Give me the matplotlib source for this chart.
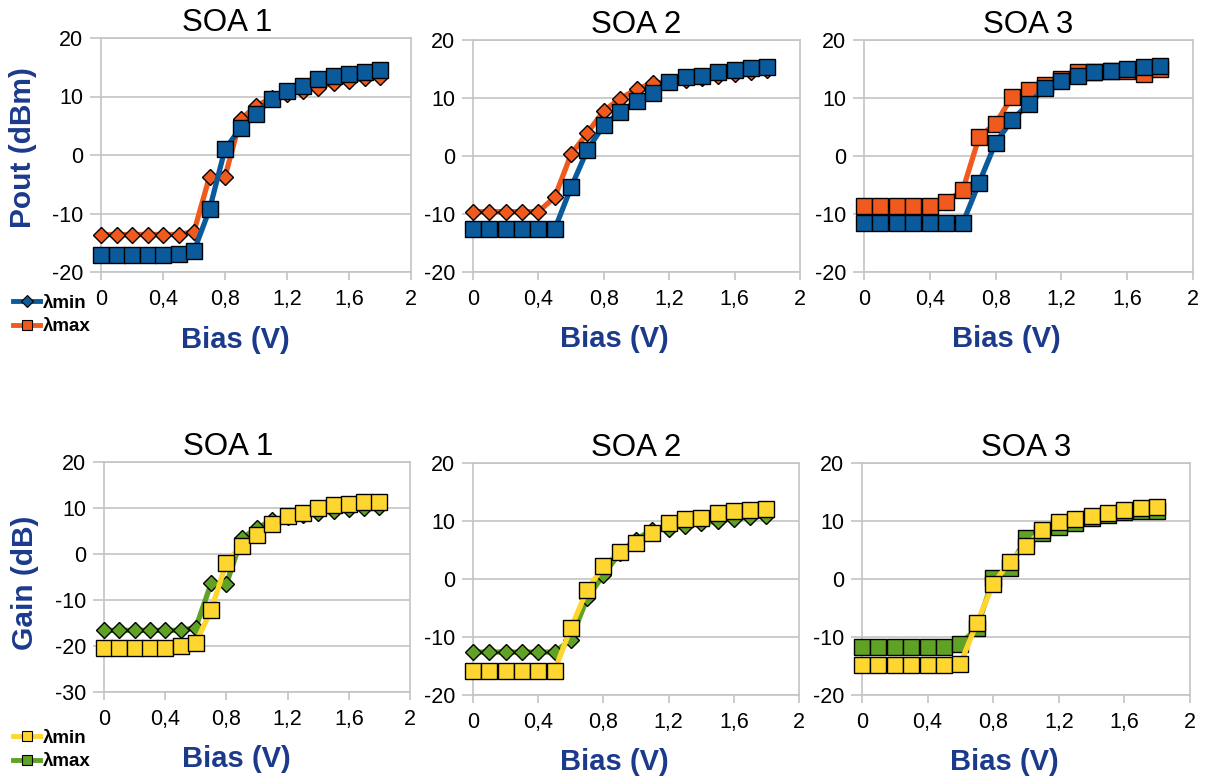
import matplotlib
matplotlib.use("Agg")
import matplotlib.pyplot as plt
from matplotlib.lines import Line2D

plt.rcParams['font.family'] = ['Liberation Sans', 'DejaVu Sans']

# Datos
bias = [0.0, 0.1, 0.2, 0.3, 0.4, 0.5, 0.6, 0.7, 0.8, 0.9,
        1.0, 1.1, 1.2, 1.3, 1.4, 1.5, 1.6, 1.7, 1.8]

pout_soa1_min = [-17.1, -17.1, -17.1, -17.1, -17.1, -17.0, -16.4, -9.3, 1.0, 4.6,
                 7.0, 9.6, 11.0, 11.8, 13.0, 13.5, 13.9, 14.2, 14.5]
pout_soa1_max = [-13.6, -13.6, -13.6, -13.6, -13.6, -13.6, -13.1, -3.7, -3.7, 6.1,
                 8.3, 9.8, 10.5, 11.0, 11.5, 12.3, 12.7, 13.1, 13.4]
pout_soa2_min = [-12.6, -12.6, -12.6, -12.6, -12.6, -12.6, -5.4, 1.1, 5.3, 7.6,
                 9.4, 10.9, 12.8, 13.6, 13.8, 14.5, 14.8, 15.2, 15.3]
pout_soa2_max = [-9.6, -9.6, -9.6, -9.6, -9.6, -7.1, 0.3, 4.0, 7.8, 9.9,
                 11.5, 12.6, 12.8, 13.1, 13.4, 13.8, 14.1, 14.4, 14.8]
pout_soa3_min = [-11.6, -11.6, -11.6, -11.6, -11.6, -11.6, -11.6, -4.6, 2.3, 6.2,
                 9.0, 11.7, 13.0, 13.8, 14.4, 14.7, 15.0, 15.3, 15.6]
pout_soa3_max = [-8.6, -8.6, -8.6, -8.6, -8.6, -7.9, -5.9, 3.3, 5.6, 10.2,
                 11.4, 12.2, 13.2, 14.5, 14.4, 14.6, 14.7, 14.2, 15.0]

gain_soa1_min = [-20.4, -20.4, -20.4, -20.4, -20.4, -20.0, -19.3, -12.2, -1.9, 1.8,
                 4.2, 6.6, 8.2, 8.9, 10.0, 10.7, 10.9, 11.3, 11.4]
gain_soa1_max = [-16.6, -16.6, -16.6, -16.6, -16.6, -16.6, -16.0, -6.4, -6.5, 3.4,
                 5.6, 7.4, 8.0, 8.5, 9.0, 9.4, 9.7, 10.0, 10.3]
gain_soa2_min = [-15.8, -15.8, -15.8, -15.8, -15.8, -15.8, -8.5, -1.9, 2.2, 4.6,
                 6.2, 7.9, 9.6, 10.3, 10.6, 11.3, 11.7, 11.9, 12.1]
gain_soa2_max = [-12.6, -12.6, -12.6, -12.6, -12.6, -12.6, -10.5, -3.3, 0.7, 4.5,
                 6.8, 8.5, 8.7, 9.2, 9.6, 10.0, 10.4, 10.7, 10.9]
gain_soa3_min = [-14.9, -14.9, -14.9, -14.9, -14.9, -14.9, -14.6, -7.6, -0.9, 3.0,
                 5.7, 8.5, 9.8, 10.3, 10.8, 11.4, 11.9, 12.2, 12.4]
gain_soa3_max = [-11.8, -11.8, -11.8, -11.8, -11.8, -11.8, -11.2, -8.5, 0.1, 1.9,
                 7.1, 7.9, 9.0, 9.6, 10.5, 11.1, 11.5, 11.7, 11.8]

titulos = ["SOA 1", "SOA 2", "SOA 3"]
xticks = [0, 0.4, 0.8, 1.2, 1.6, 2]
xtick_labels = ["0", "0,4", "0,8", "1,2", "1,6", "2"]
yticks_pout = [-20, -10, 0, 10, 20]
yticks_gain1 = [-30, -20, -10, 0, 10, 20]
yticks_gain = [-20, -10, 0, 10, 20]

AZUL = '#0b5a9c'
NARANJA = '#f05a1e'
AMARILLO = '#ffd630'
VERDE = '#5fa225'
ETIQ = '#1c3a8c'
GRIS = '#c4c4c4'

W, H = 1207, 782
fig = plt.figure(figsize=(W / 100, H / 100), dpi=100)


def ejes(l, t, r, b):
    # rectangulo en pixeles -> fracciones de figura
    return fig.add_axes([l / W, 1 - b / H, (r - l) / W, (b - t) / H])


def estilo(ax, titulo, yticks, ylim, tx=0.5):
    ax.set_xlim(0, 2)
    ax.set_ylim(*ylim)
    ax.set_xticks(xticks)
    ax.set_xticklabels(xtick_labels)
    ax.set_yticks(yticks)
    ax.set_yticklabels([str(v) for v in yticks])
    ax.grid(axis='y', color=GRIS, linewidth=1.2, zorder=0)
    for s in ax.spines.values():
        s.set_color(GRIS)
        s.set_linewidth(1.2)
    ax.tick_params(axis='y', length=8, width=1.2, color=GRIS, pad=5, labelsize=15.5)
    ax.tick_params(axis='x', length=6, width=1.2, color=GRIS, pad=6, labelsize=15.5)
    ax.text(tx, 1 + 15 / 234, titulo, transform=ax.transAxes, ha='center',
            va='center', fontsize=22.5)
    ax.set_xlabel("Bias (V)", fontsize=21, fontweight='bold', color=ETIQ)
    ax.xaxis.set_label_coords(0.433, -0.29)
    ax.xaxis.label.set_va('center')


def serie(ax, y, color, marcador, z):
    ms = 11 if marcador == 's' else 7.8
    ax.plot(bias, y, color=color, linewidth=3.8, marker=marcador, markersize=ms,
            markerfacecolor=color, markeredgecolor='black', markeredgewidth=1.0,
            zorder=z, clip_on=False)


# Fila superior: Pout
sup = [ejes(101, 38, 411, 272), ejes(473, 40, 800, 272), ejes(864, 40, 1193, 272)]
pout = [(pout_soa1_min, pout_soa1_max, 'D', 0.406),
        (pout_soa2_min, pout_soa2_max, 'D', 0.5),
        (pout_soa3_min, pout_soa3_max, 's', 0.5)]
for i, ax in enumerate(sup):
    ymin, ymax, mk, tx = pout[i]
    estilo(ax, titulos[i], yticks_pout, (-20, 20), tx)
    serie(ax, ymax, NARANJA, mk, 3)
    serie(ax, ymin, AZUL, 's', 4)
sup[0].set_ylabel("Pout (dBm)", fontsize=21.5, fontweight='bold', color=ETIQ,
                  va='center')
sup[0].yaxis.set_label_coords(-0.252, 0.53)

# Fila inferior: Gain
inf = [ejes(104, 462, 410, 692), ejes(473, 463, 799, 695), ejes(862, 463, 1190, 695)]
gain = [(gain_soa1_min, gain_soa1_max, 'D', yticks_gain1, (-30, 20), 0.405),
        (gain_soa2_min, gain_soa2_max, 'D', yticks_gain, (-20, 20), 0.5),
        (gain_soa3_min, gain_soa3_max, 's', yticks_gain, (-20, 20), 0.5)]
for i, ax in enumerate(inf):
    ymin, ymax, mk, yt, yl, tx = gain[i]
    estilo(ax, titulos[i], yt, yl, tx)
    serie(ax, ymax, VERDE, mk, 3)
    serie(ax, ymin, AMARILLO, 's', 4)
inf[0].set_ylabel("Gain (dB)", fontsize=21.5, fontweight='bold', color=ETIQ,
                  va='center')
inf[0].yaxis.set_label_coords(-0.258, 0.474)


# Leyendas
def manija(color, mk):
    return Line2D([], [], color=color, linewidth=3.5, marker=mk,
                  markersize=7.5 if mk == 's' else 6, markerfacecolor=color,
                  markeredgecolor='black', markeredgewidth=0.8)


fig.legend([manija(AZUL, 'D'), manija(NARANJA, 's')], ["λmin", "λmax"],
           loc='center left', bbox_to_anchor=(4 / W, 1 - 315 / H), frameon=False,
           prop={'size': 13.5, 'weight': 'bold'}, handlelength=1.4, handletextpad=0.2,
           labelspacing=0.35, borderpad=0)
fig.legend([manija(AMARILLO, 's'), manija(VERDE, 's')], ["λmin", "λmax"],
           loc='center left', bbox_to_anchor=(4 / W, 1 - 750 / H), frameon=False,
           prop={'size': 13.5, 'weight': 'bold'}, handlelength=1.4, handletextpad=0.2,
           labelspacing=0.35, borderpad=0)

fig.savefig("out.png", dpi=100)
